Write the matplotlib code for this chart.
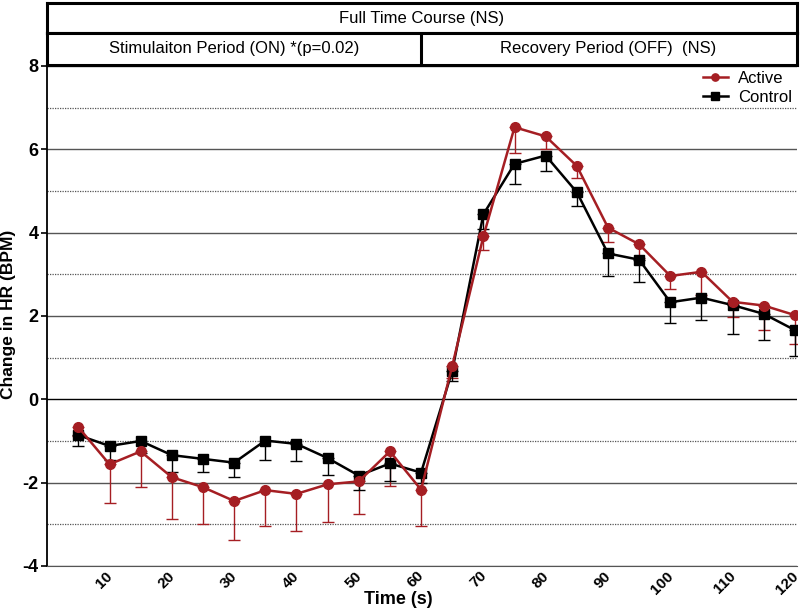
import matplotlib.pyplot as plt
import matplotlib.transforms as mtransforms
import numpy as np

plt.rcParams['font.family'] = ['Liberation Sans', 'DejaVu Sans']
plt.rcParams['axes.unicode_minus'] = False

# time points (s)
time = np.arange(5, 125, 5)

# Active group (mean, lower error)
active = [-0.67, -1.56, -1.25, -1.87, -2.11, -2.44, -2.18, -2.27, -2.04, -1.97, -1.25, -2.17,
          0.80, 3.91, 6.53, 6.31, 5.60, 4.12, 3.72, 2.96, 3.06, 2.34, 2.25, 2.02]
active_err = [0.20, 0.94, 0.85, 1.00, 0.89, 0.93, 0.86, 0.89, 0.90, 0.79, 0.83, 0.87,
              0.30, 0.33, 0.63, 0.30, 0.30, 0.35, 0.32, 0.32, 0.55, 0.36, 0.58, 0.69]

# Control group (mean, lower error)
control = [-0.86, -1.12, -1.00, -1.34, -1.43, -1.52, -0.99, -1.07, -1.41, -1.83, -1.54, -1.76,
           0.68, 4.44, 5.65, 5.85, 4.97, 3.50, 3.35, 2.33, 2.44, 2.26, 2.05, 1.66]
control_err = [0.26, 0.33, 0.30, 0.40, 0.31, 0.35, 0.46, 0.40, 0.41, 0.34, 0.42, 0.25,
               0.23, 0.35, 0.48, 0.36, 0.34, 0.55, 0.53, 0.50, 0.53, 0.69, 0.63, 0.62]

header_top = "Full Time Course (NS)"
header_left = "Stimulaiton Period (ON) *(p=0.02)"
header_right = "Recovery Period (OFF)  (NS)"

RED = '#A51E23'

fig = plt.figure(figsize=(8, 6.12), dpi=100)
ax = fig.add_axes([0.059, 0.0752, 0.937, 0.817])

# grid lines
for y in range(-4, 9):
	if y == 0:
		ax.axhline(y, color='black', lw=1.0, zorder=1)
	elif y % 2 == 0:
		ax.axhline(y, color='#555555', lw=1.0, zorder=1)
	else:
		ax.axhline(y, color='#555555', lw=0.9, ls=(0, (1, 1)), zorder=1)

# error bars (lower only)
ax.errorbar(time, active, yerr=[active_err, [0]*len(time)], fmt='none', ecolor=RED,
            elinewidth=1.0, capsize=4, capthick=1.0, zorder=2)
ax.errorbar(time, control, yerr=[control_err, [0]*len(time)], fmt='none', ecolor='black',
            elinewidth=1.0, capsize=4, capthick=1.0, zorder=2)

ax.plot(time, active, '-o', color=RED, lw=1.8, ms=7, label='Active', zorder=4)
ax.plot(time, control, '-s', color='black', lw=1.8, ms=7, label='Control', zorder=3)

ax.set_xlim(0, 120.3)
ax.set_ylim(-4, 8)
ax.set_yticks(range(-4, 9, 2))
ax.set_xticks(range(10, 121, 10))
ax.set_xticklabels([str(t) for t in range(10, 121, 10)], rotation=45, ha='right',
                   rotation_mode='anchor', fontsize=11, fontweight='bold')
ax.tick_params(axis='x', length=0, pad=2)
shift = mtransforms.ScaledTranslation(-4/100, 0, fig.dpi_scale_trans)
for lbl in ax.get_xticklabels():
	lbl.set_transform(lbl.get_transform() + shift)
ax.tick_params(axis='y', labelsize=13, width=1.2, length=4, pad=2)
for lbl in ax.get_yticklabels():
	lbl.set_fontweight('bold')

ax.spines['top'].set_visible(False)
ax.spines['right'].set_visible(False)
ax.spines['left'].set_linewidth(1.3)
ax.spines['bottom'].set_color('#555555')

fig.text(0.4975, 0.021, 'Time (s)', ha='center', va='center', fontsize=13, fontweight='bold')
fig.text(0.011, 0.487, 'Change in HR (BPM)', ha='center', va='center', rotation=90,
         fontsize=12.5, fontweight='bold')

leg = ax.legend(loc='upper right', frameon=False, fontsize=12, handlelength=1.5,
                markerscale=0.75, borderaxespad=0.1, borderpad=0.2, labelspacing=0.25,
                handletextpad=0.6)

# header boxes
hdr1 = fig.add_axes([0.059, 0.946, 0.937, 0.049])
hdr2 = fig.add_axes([0.059, 0.8945, 0.937, 0.0515])
for h in (hdr1, hdr2):
	h.set_xlim(0, 120.3)
	h.set_ylim(0, 1)
	h.set_xticks([])
	h.set_yticks([])
	for s in h.spines.values():
		s.set_linewidth(2.2)
hdr1.text(60, 0.5, header_top, ha='center', va='center', fontsize=12)
hdr2.axvline(60, color='black', lw=2.2)
hdr2.text(30, 0.5, header_left, ha='center', va='center', fontsize=12)
hdr2.text(90, 0.5, header_right, ha='center', va='center', fontsize=12)

fig.savefig('out.png', dpi=100)
